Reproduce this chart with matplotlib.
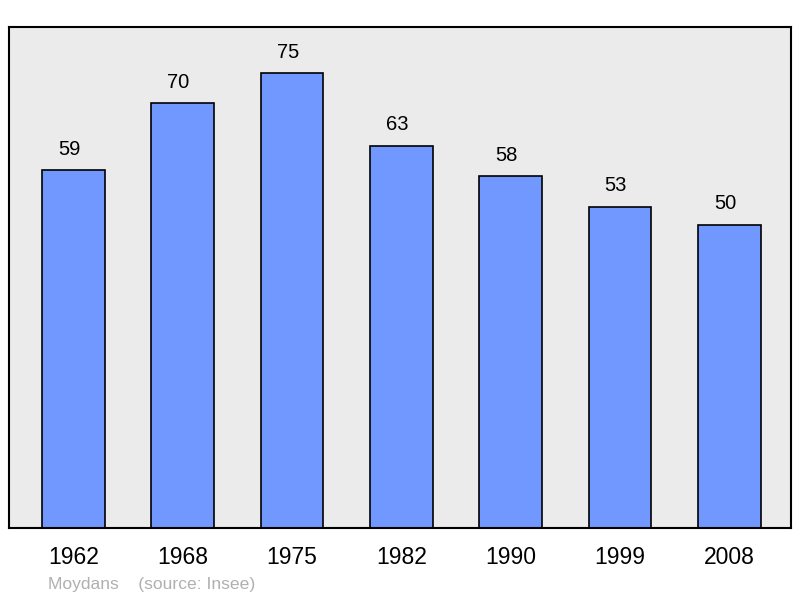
import matplotlib.pyplot as plt

years = ["1962", "1968", "1975", "1982", "1990", "1999", "2008"]
population = [59, 70, 75, 63, 58, 53, 50]

plt.rcParams['font.family'] = ['Liberation Sans', 'DejaVu Sans']

fig = plt.figure(figsize=(8, 5.98), dpi=100)
ax = fig.add_axes([9 / 800, 70 / 598, 782 / 800, 501 / 598])
ax.set_facecolor('#ebebeb')

x = range(len(years))
ax.bar(x, population, width=0.574, color='#7098ff', edgecolor='black', linewidth=1.2)

for xi, v in zip(x, population):
    ax.text(xi - 0.04, v + 1.9, str(v), ha='center', va='bottom', fontsize=14.5)

ax.set_xlim(-0.59, 6.565)
ax.set_ylim(0, 82.6)
ax.set_yticks([])
ax.set_xticks(list(x))
ax.set_xticklabels(years, fontsize=16.5)
ax.tick_params(axis='x', length=0, pad=13)
for s in ax.spines.values():
    s.set_linewidth(1.5)

fig.text(48 / 800, 1 - 584 / 598, "Moydans    (source: Insee)", color='#b0b0b0',
         fontsize=12.6, va='center', ha='left')

fig.savefig('out.png', dpi=100)
